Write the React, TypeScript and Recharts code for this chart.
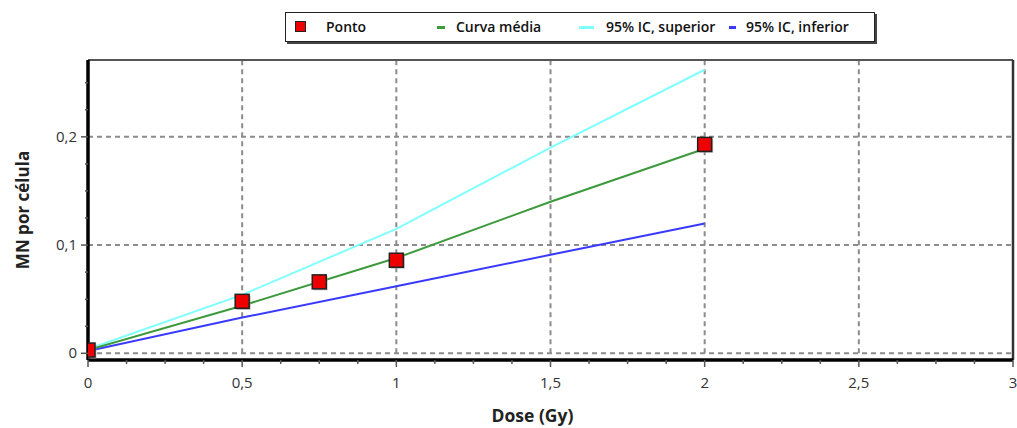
import React from 'react';
import {
  ComposedChart,
  Line,
  Scatter,
  XAxis,
  YAxis,
  ReferenceLine,
} from 'recharts';

// measured points (dose in Gy, MN per cell)
const pointDoses = [0, 0.5, 0.75, 1, 2];
const pointMN = [0.003, 0.048, 0.066, 0.086, 0.193];

// fitted curve and 95% CI, read at the same doses
const curveDoses = [0, 0.5, 1, 1.5, 2];
const meanFit = [0.003, 0.044, 0.088, 0.14, 0.189];
const upperCI = [0.004, 0.054, 0.115, 0.19, 0.262];
const lowerCI = [0.002, 0.033, 0.062, 0.091, 0.12];

const seriesNames = ['Ponto', 'Curva média', '95% IC, superior', '95% IC, inferior'];

const xMajorTicks = [0, 0.5, 1, 1.5, 2, 2.5, 3];
const xMinorTicks = [
  0.125, 0.25, 0.375, 0.625, 0.75, 0.875, 1.125, 1.25, 1.375, 1.625, 1.75, 1.875,
  2.125, 2.25, 2.375, 2.625, 2.75, 2.875,
];
const yMajorTicks = [0, 0.1, 0.2];
const yMinorTicks = [0.025, 0.05, 0.075, 0.125, 0.15, 0.175, 0.225, 0.25];

const X_DOMAIN: [number, number] = [0, 3];
const Y_DOMAIN: [number, number] = [-0.0062, 0.271];

const COLORS = {
  point: '#ee0000',
  mean: '#3c9a3c',
  upper: '#80ffff',
  lower: '#3a3aff',
};

const FONT = '"Open Sans", "Noto Sans", sans-serif';
const GRID = { stroke: '#8c8c8c', strokeWidth: 2, strokeDasharray: '5 4' };

const points = pointDoses.map((x, i) => ({ x, y: pointMN[i] }));
const toCurve = (vals: number[]) => curveDoses.map((x, i) => ({ x, y: vals[i] }));

const fmt = (v: number) => String(v).replace('.', ',');

const XTick = ({ x, y, payload }: any) => {
  const major = xMajorTicks.includes(payload.value);
  return (
    <g>
      <line x1={x} x2={x} y1={y} y2={y + (major ? 7 : 4)} stroke="#555" strokeWidth={1.5} />
      {major && (
        <text x={x} y={y + 28} textAnchor="middle" fill="#333" fontSize={15} fontFamily={FONT}>
          {fmt(payload.value)}
        </text>
      )}
    </g>
  );
};

const YTick = ({ x, y, payload }: any) => {
  const major = yMajorTicks.includes(payload.value);
  return (
    <g>
      <line x1={x} x2={x - (major ? 7 : 3)} y1={y} y2={y} stroke="#555" strokeWidth={1.5} />
      {major && (
        <text x={x - 11} y={y + 5} textAnchor="end" fill="#333" fontSize={15} fontFamily={FONT}>
          {fmt(payload.value)}
        </text>
      )}
    </g>
  );
};

const Square = ({ cx, cy }: any) => (
  <g>
    <rect x={cx - 5.5} y={cy - 5.5} width={14} height={14} fill="#999" opacity={0.6} />
    <rect x={cx - 7} y={cy - 7} width={14} height={14} fill={COLORS.point} stroke="#222" strokeWidth={1.5} />
  </g>
);

const legendLayout = [
  { marker: 9, markerW: 11, text: 40 },
  { marker: 151, markerW: 8, text: 170 },
  { marker: 293, markerW: 15, text: 320 },
  { marker: 443, markerW: 7, text: 460 },
];
const legendColors = [COLORS.point, COLORS.mean, COLORS.upper, COLORS.lower];

const Legendbox = () => (
  <div
    style={{
      position: 'absolute',
      left: 285,
      top: 12,
      width: 588,
      height: 28,
      border: '1px solid #222',
      boxShadow: '2px 2px 0 #444',
      background: '#fff',
      fontFamily: FONT,
      fontWeight: 600,
      fontSize: 14,
      color: '#111',
    }}
  >
    {seriesNames.map((name, i) => {
      const l = legendLayout[i];
      return (
        <React.Fragment key={name}>
          {i === 0 ? (
            <div
              style={{
                position: 'absolute',
                left: l.marker,
                top: 8,
                width: 9,
                height: 9,
                background: legendColors[i],
                border: '1px solid #222',
              }}
            />
          ) : (
            <div
              style={{
                position: 'absolute',
                left: l.marker,
                top: 13,
                width: l.markerW,
                height: 3,
                background: legendColors[i],
              }}
            />
          )}
          <div style={{ position: 'absolute', left: l.text, top: 5, lineHeight: '18px', whiteSpace: 'nowrap' }}>
            {name}
          </div>
        </React.Fragment>
      );
    })}
  </div>
);

export default function App() {
  return (
    <div style={{ position: 'absolute', left: 0, top: 0, width: 1017, height: 428, background: '#fff' }}>
      <ComposedChart width={1017} height={428} margin={{ top: 60, right: 4, bottom: 0, left: 0 }}>
        <XAxis
          type="number"
          dataKey="x"
          domain={X_DOMAIN}
          ticks={[...xMajorTicks, ...xMinorTicks].sort((a, b) => a - b)}
          interval={0}
          height={68}
          tickSize={0}
          tickMargin={0}
          tickLine={false}
          tick={<XTick />}
          axisLine={false}
          allowDataOverflow
          label={{
            content: ({ viewBox }: any) => (
              <text
                x={viewBox.x + viewBox.width / 2 - 18}
                y={viewBox.y + 62}
                textAnchor="middle"
                fontFamily={FONT}
                fontWeight={700}
                fontSize={17.5}
                fill="#222"
              >
                Dose (Gy)
              </text>
            ),
          }}
        />
        <YAxis
          type="number"
          dataKey="y"
          domain={Y_DOMAIN}
          ticks={[...yMajorTicks, ...yMinorTicks].sort((a, b) => a - b)}
          interval={0}
          width={88}
          tickSize={0}
          tickMargin={0}
          tickLine={false}
          tick={<YTick />}
          axisLine={false}
          allowDataOverflow
          label={{
            content: ({ viewBox }: any) => {
              const cx = viewBox.x + 22;
              const cy = viewBox.y + viewBox.height / 2;
              return (
                <text
                  x={cx}
                  y={cy}
                  transform={`rotate(-90 ${cx} ${cy})`}
                  textAnchor="middle"
                  dominantBaseline="central"
                  fontFamily={FONT}
                  fontWeight={700}
                  fontSize={17}
                  fill="#222"
                >
                  MN por célula
                </text>
              );
            },
          }}
        />

        {xMajorTicks.slice(1, -1).map((v) => (
          <ReferenceLine key={'gx' + v} segment={[{ x: v, y: 0 }, { x: v, y: Y_DOMAIN[1] }]} {...GRID} />
        ))}
        {yMajorTicks.map((v) => (
          <ReferenceLine key={'gy' + v} y={v} {...GRID} />
        ))}
        <ReferenceLine y={Y_DOMAIN[1]} stroke="#555" strokeWidth={2} />
        <ReferenceLine x={X_DOMAIN[1]} stroke="#333" strokeWidth={2.5} />
        <ReferenceLine y={Y_DOMAIN[0]} stroke="#000" strokeWidth={3.5} />
        <ReferenceLine x={X_DOMAIN[0]} stroke="#000" strokeWidth={3.5} />

        <Line
          data={toCurve(upperCI)}
          dataKey="y"
          name={seriesNames[2]}
          type="linear"
          stroke={COLORS.upper}
          strokeWidth={2}
          dot={false}
          activeDot={false}
          isAnimationActive={false}
        />
        <Line
          data={toCurve(lowerCI)}
          dataKey="y"
          name={seriesNames[3]}
          type="linear"
          stroke={COLORS.lower}
          strokeWidth={2}
          dot={false}
          activeDot={false}
          isAnimationActive={false}
        />
        <Line
          data={toCurve(meanFit)}
          dataKey="y"
          name={seriesNames[1]}
          type="linear"
          stroke={COLORS.mean}
          strokeWidth={2}
          dot={false}
          activeDot={false}
          isAnimationActive={false}
        />
        <Scatter
          data={points}
          dataKey="y"
          name={seriesNames[0]}
          shape={<Square />}
          isAnimationActive={false}
        />
      </ComposedChart>
      <Legendbox />
    </div>
  );
}
